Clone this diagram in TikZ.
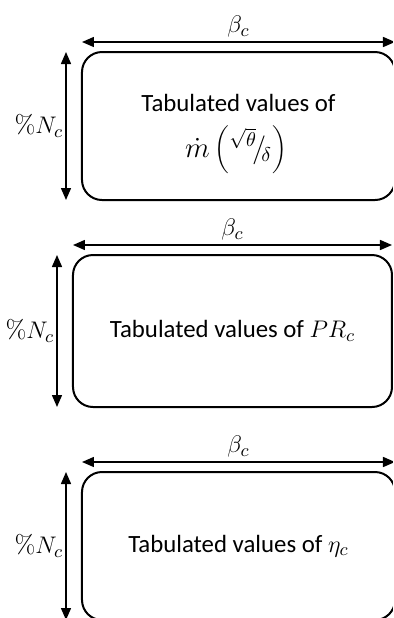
\documentclass[tikz,border=0pt]{standalone}
\usepackage{fontspec}
\setmainfont{Carlito}
\newfontfamily\lmrm{Latin Modern Roman}
\usetikzlibrary{arrows.meta,positioning}
\tikzset{
  tab/.style={draw, line width=1pt, rounded corners=10pt, outer sep=0pt, align=center,
    minimum width=#1, minimum height=74pt, font=\fontsize{12.4}{15}\selectfont},
  txt/.style={font=\fontsize{12.4}{15}\selectfont, inner sep=0pt},
  dim/.style={{Triangle[length=6pt,width=5pt]}-{Triangle[length=6pt,width=5pt]}, line width=0.75pt},
  lab/.style={font=\fontsize{12.8}{15}\selectfont, inner sep=2pt},
}

\begin{document}
\begin{tikzpicture}[x=0.5pt,y=-0.5pt]
  \useasboundingbox (0,0) rectangle (393,618);
  \clip (0,0) rectangle (393,618);
  % the three tables
  \node[tab=156.5pt] (mdot) at (238.5,126) {};
  \node[txt] (mdotA) at (238.5,103) {Tabulated values of};
  \node[txt, font=\fontsize{14.5}{17}\selectfont] (mdotB) at (236,150)
    {$\dot m\left({}^{\sqrt{\theta}}\!\big/\!{}_{\delta}\right)$};
  \node[tab=159.5pt, minimum height=76pt] (pr) at (232.5,331) {Tabulated values of $PR_c$};
  \node[tab=156.5pt] (eta) at (238.5,546) {Tabulated values of $\eta_c$};
  % dimension arrows
  \foreach \t in {mdot,pr,eta}{
    \draw[dim] ([yshift=5pt]\t.north west) -- node[lab,above]{$\beta_c$} ([yshift=5pt]\t.north east);
    \draw[dim] ([xshift=-8pt]\t.north west) -- node[lab,left,inner sep=1pt]{{\lmrm\%}$N_c$} ([xshift=-8pt]\t.south west);
  }
\end{tikzpicture}
\end{document}
